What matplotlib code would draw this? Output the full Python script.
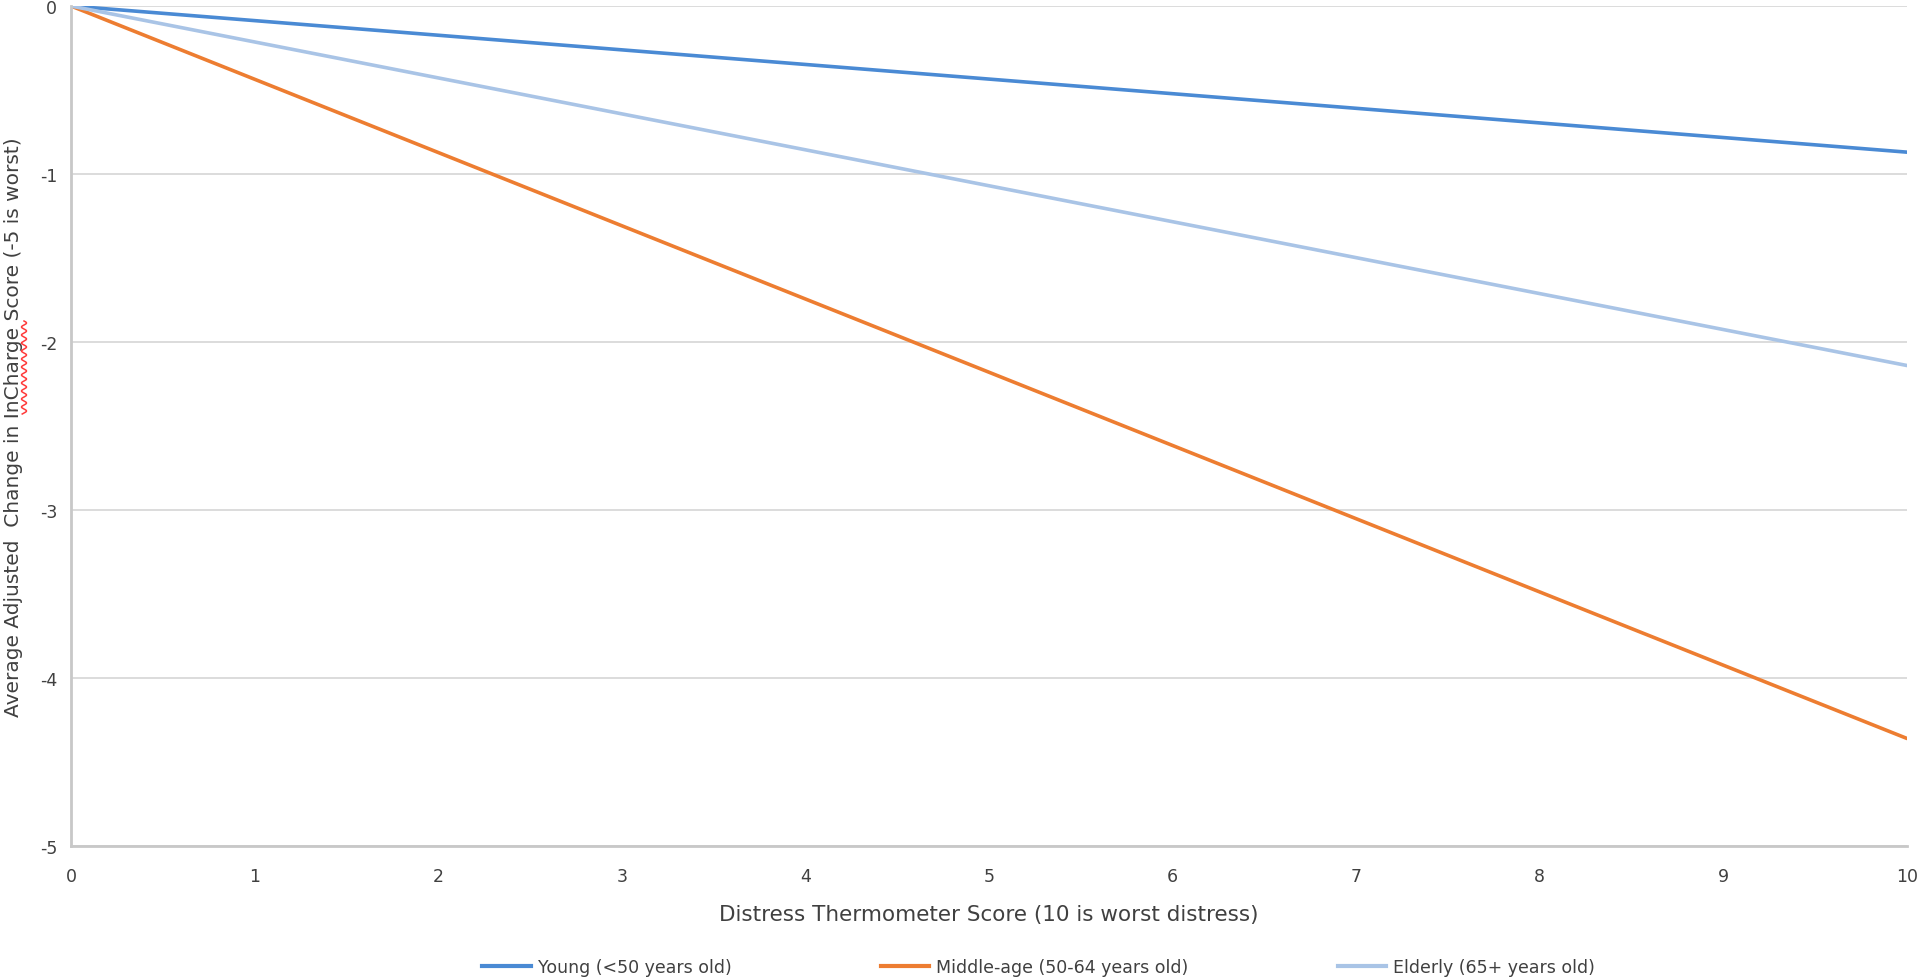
import matplotlib

matplotlib.use("Agg")
import matplotlib.pyplot as plt
import numpy as np
from matplotlib.lines import Line2D

# distress thermometer score endpoints
distress = [0, 10]
young = [0, -0.87]
middle_age = [0, -4.36]
elderly = [0, -2.14]

series_labels = [
    "Young (<50 years old)",
    "Middle-age (50-64 years old)",
    "Elderly (65+ years old)",
]
colors = ["#4A8AD4", "#ED7D31", "#A9C4E6"]

x_ticks = list(range(0, 11))
y_ticks = [0, -1, -2, -3, -4, -5]

plt.rcParams["font.family"] = ["DejaVu Sans"]

W, H = 1920, 979
fig = plt.figure(figsize=(19.2, 9.79), dpi=100)
ax = fig.add_axes([71 / W, 1 - 847 / H, (1907 - 71) / W, 840 / H])

for ys, col, lab in zip([young, middle_age, elderly], colors, series_labels):
    ax.plot(distress, ys, color=col, linewidth=2.6, label=lab, solid_capstyle="round")

ax.set_xlim(0, 10)
ax.set_ylim(-5, 0)
ax.set_xticks(x_ticks)
ax.set_yticks(y_ticks)
ax.set_yticklabels([str(v) for v in y_ticks])
ax.tick_params(length=0, labelsize=12.5, colors="#404040")
ax.tick_params(axis="x", pad=15)
ax.tick_params(axis="y", pad=10)
ax.yaxis.grid(True, color="#D9D9D9", linewidth=1.3)
ax.set_axisbelow(True)
for side in ["top", "right"]:
    ax.spines[side].set_visible(False)
for side in ["left", "bottom"]:
    ax.spines[side].set_color("#C8C8C8")
    ax.spines[side].set_linewidth(2)

ax.set_xlabel("Distress Thermometer Score (10 is worst distress)", fontsize=15.5, color="#404040", labelpad=14)
ax.set_ylabel("Average Adjusted  Change in InCharge Score (-5 is worst)", fontsize=14.5, color="#404040", labelpad=12)

# spell-check squiggle under "InCharge" (as in the source screenshot)
sq_y = np.linspace(322, 415, 200)
sq_x = 24 + 2.5 * np.sin((sq_y - 322) / 8.0 * 2 * np.pi)
fig.add_artist(Line2D(sq_x / W, 1 - sq_y / H, transform=fig.transFigure, color="#FF3B3B", linewidth=1.1))

handles = [Line2D([0], [0], color=c, linewidth=3) for c in colors]
fig.legend(handles, series_labels, loc="center", bbox_to_anchor=(0.541, 1 - 968 / H), ncol=3,
           frameon=False, fontsize=12.5, handlelength=2.8, columnspacing=8.6, handletextpad=0.4,
           labelcolor="#404040")

fig.savefig("out.png", dpi=100)
